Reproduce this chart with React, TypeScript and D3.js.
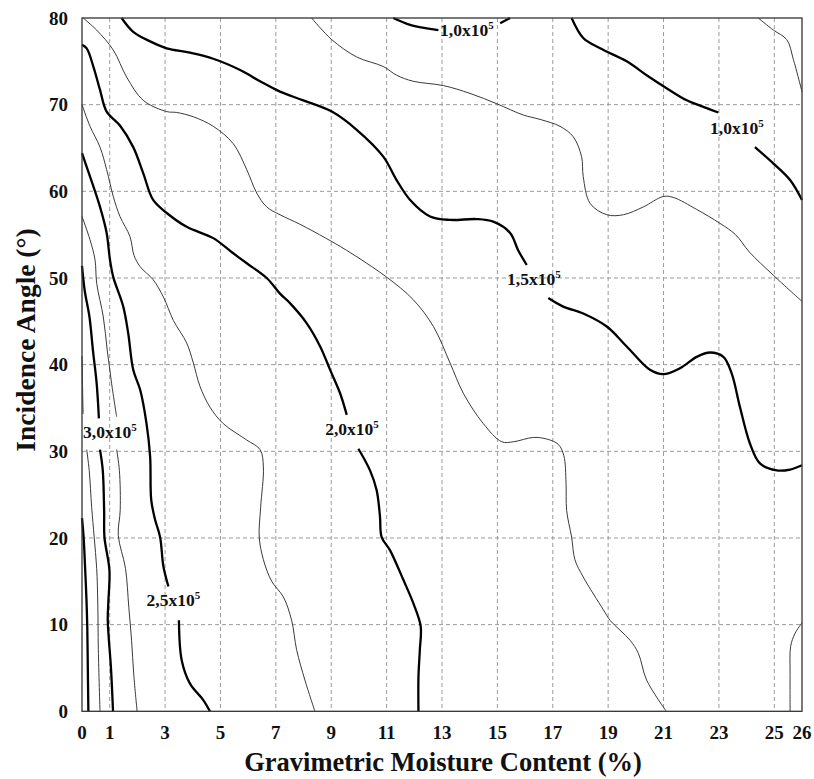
import React from "react";
import * as d3 from "d3";

type Pt = [number, number];

// Axis ticks
const xTickValues = [0, 1, 3, 5, 7, 9, 11, 13, 15, 17, 19, 21, 23, 25, 26];
const yTickValues = [0, 10, 20, 30, 40, 50, 60, 70, 80];
const xGridValues = [1, 3, 5, 7, 9, 11, 13, 15, 17, 19, 21, 23, 25];
const yGridValues = [10, 20, 30, 40, 50, 60, 70];

const xTitle = "Gravimetric Moisture Content (%)";
const yTitle = "Incidence Angle (°)";

// Thick contour lines (segments split where labels sit)
const k5: Pt[] = [[0.0, 22.3], [0.06, 20], [0.11, 16.7], [0.16, 13], [0.19, 9.8], [0.21, 5], [0.23, 0]];
const k4a: Pt[] = [[0, 51.4], [0.1, 48.5], [0.27, 45.5], [0.4, 41.5], [0.53, 37.8], [0.61, 33.8]];
const k4b: Pt[] = [[0.65, 30.2], [0.75, 27.8], [0.8, 23], [0.81, 20.1], [0.99, 16.3], [0.95, 12.5], [0.93, 10.5], [1.05, 4.8], [1.12, 0]];
const k3a: Pt[] = [[0, 64.4], [0.29, 61.7], [0.65, 58.2], [0.89, 55.2], [1.01, 52.1], [1.13, 50.1], [1.49, 46.7], [1.67, 43.6], [1.85, 39.4], [2.1, 37.1], [2.33, 33.2], [2.46, 29.4], [2.5, 24.4], [2.64, 22.1], [2.82, 20.1], [2.94, 16.7], [3.12, 14.4]];
const k3b: Pt[] = [[3.5, 10.5], [3.6, 5.9], [3.9, 3.2], [4.38, 1.3], [4.62, 0]];
const k2a: Pt[] = [[0, 76.9], [0.17, 76.5], [0.41, 74.4], [0.65, 71.7], [0.89, 69.2], [1.37, 67.6], [1.85, 65.1], [2.21, 62.1], [2.57, 59.0], [3.06, 57.5], [3.78, 55.9], [4.74, 54.6], [5.4, 53.0], [5.95, 51.7], [6.67, 50.0], [7.15, 48.2], [7.51, 47.1], [8.11, 44.8], [8.6, 42.1], [8.96, 39.4], [9.32, 36.7], [9.56, 34.2]];
const k2b: Pt[] = [[9.98, 30.3], [10.4, 27.8], [10.64, 25.5], [10.76, 22.5], [10.82, 20.1], [11.12, 18.6], [11.6, 15.2], [11.96, 12.5], [12.23, 9.8], [12.2, 7.1], [12.15, 4.0], [12.15, 0]];
const k1a: Pt[] = [[1.43, 80], [1.85, 78.4], [2.46, 77.3], [3.06, 76.5], [3.9, 76.0], [4.74, 75.3], [5.71, 74.0], [6.43, 72.7], [7.15, 71.5], [7.99, 70.5], [9.02, 69.2], [9.92, 67.1], [10.88, 64.0], [11.36, 61.3], [11.85, 59.0], [12.57, 57.1], [13.29, 56.7], [14.25, 56.8], [14.85, 56.5], [15.46, 55.2], [15.75, 53.2], [16.06, 51.5]];
const k1b: Pt[] = [[16.84, 47.7], [17.38, 46.7], [18.1, 45.9], [18.95, 44.4], [19.67, 42.1], [20.51, 39.4], [20.99, 38.9], [21.6, 39.6], [22.2, 40.9], [22.68, 41.4], [23.16, 40.9], [23.46, 39.0], [23.76, 35.1], [24.12, 30.9], [24.48, 28.6], [25.09, 27.8], [25.57, 27.9], [26, 28.4]];
const k0a: Pt[] = [[11.24, 80], [11.85, 79.2], [12.45, 78.8], [12.87, 78.6]];
const k0b: Pt[] = [[15.1, 79.4], [15.46, 80]];
const k0c: Pt[] = [[17.68, 80], [18.1, 77.7], [18.71, 76.5], [19.67, 75.0], [20.39, 73.4], [21.11, 71.9], [21.84, 70.5], [22.56, 69.6], [22.98, 69.1]];
const k0d: Pt[] = [[24.3, 65.1], [24.97, 63.2], [25.57, 61.3], [26, 59.0]];

// Thin contour lines
const t5a: Pt[] = [[0, 41], [0.02, 37.5], [0.04, 34.3]];
const t5b: Pt[] = [[0.17, 30.2], [0.26, 27.8], [0.35, 23.5], [0.44, 20.1], [0.53, 16.5], [0.57, 12.5], [0.59, 7.1], [0.65, 0]];
const t4a: Pt[] = [[0, 57.1], [0.29, 54.4], [0.47, 52.1], [0.53, 49.4], [0.77, 45.5], [0.91, 41.7], [1.07, 37.8], [1.25, 34.0]];
const t4b: Pt[] = [[1.25, 30.2], [1.35, 27.8], [1.38, 23.2], [1.31, 20.3], [1.57, 16.5], [1.69, 12.0], [1.79, 8.2], [1.87, 4.2], [1.99, 0]];
const t3: Pt[] = [[0, 70], [0.29, 67.5], [0.65, 65.1], [0.89, 62.5], [1.13, 59.4], [1.37, 57.1], [1.73, 54.8], [1.88, 52.6], [2.1, 51.3], [2.57, 49.8], [2.94, 47.8], [3.3, 45.1], [3.78, 42.5], [4.02, 40.2], [4.26, 37.5], [4.62, 35.1], [5.1, 33.2], [5.95, 31.3], [6.43, 30.2], [6.55, 28.2], [6.45, 23.5], [6.4, 20.1], [6.55, 17.5], [6.85, 15.0], [7.27, 13.2], [7.57, 10.5], [7.75, 7.1], [8.05, 3.6], [8.41, 0]];
const t1: Pt[] = [[0.04, 80], [0.53, 78.6], [1.13, 76.3], [1.61, 73.2], [2.21, 70.5], [3.06, 69.2], [3.42, 69.1], [4.02, 68.6], [4.74, 67.5], [5.46, 65.5], [5.95, 62.5], [6.31, 59.8], [6.67, 58.2], [7.15, 57.3], [7.87, 56.2], [8.8, 54.6], [9.55, 53.2], [11.0, 50.1], [11.96, 47.5], [12.69, 44.4], [13.29, 40.2], [13.77, 36.7], [14.49, 33.2], [15.16, 31.1], [15.58, 31.1], [16.3, 31.6], [16.8, 31.4], [17.2, 30.8], [17.4, 29.5], [17.48, 26.3], [17.5, 23.2], [17.68, 20.1], [17.8, 17.5], [18.1, 15.5], [18.83, 11.7], [19.07, 10.5], [19.79, 8.2], [20.09, 6.7], [20.39, 3.6], [21.1, 0]];
const t2: Pt[] = [[8.29, 80], [9.02, 77.5], [9.92, 75.5], [10.88, 74.4], [11.36, 73.4], [11.96, 72.7], [13.05, 72.2], [14.01, 71.3], [14.98, 70.1], [15.94, 68.8], [16.54, 68.3], [17.26, 67.5], [17.74, 66.3], [18.04, 64.0], [18.1, 61.7], [18.35, 58.6], [18.95, 57.3], [19.55, 57.3], [20.27, 58.2], [20.99, 59.4], [21.35, 59.3], [22.2, 57.9], [23.04, 56.3], [23.6, 55.0], [24.1, 53.0], [24.97, 50.3], [26, 47.3]];
const t0: Pt[] = [[24.42, 80], [24.97, 78.6], [25.45, 77.5], [25.69, 75.2], [26, 71.5]];
const t6: Pt[] = [[26, 10.2], [25.75, 9.0], [25.59, 7.5], [25.57, 4.4], [25.57, 0]];

const thickLines: Pt[][] = [k5, k4a, k4b, k3a, k3b, k2a, k2b, k1a, k1b, k0a, k0b, k0c, k0d];
const thinLines: Pt[][] = [t5a, t5b, t4a, t4b, t3, t1, t2, t0, t6];

// Contour labels
const labelMantissa = ["3,0x10", "2,5x10", "2,0x10", "1,5x10", "1,0x10", "1,0x10"];
const labelExponent = ["5", "5", "5", "5", "5", "5"];
const labelX = [0.04, 2.33, 8.78, 15.35, 12.93, 22.68];
const labelY = [31.5, 12.1, 31.9, 49.2, 77.9, 66.6];

const W = 814;
const H = 779;
const left = 82;
const right = 802;
const top = 18;
const bottom = 711.3;

export default function App() {
  const x = d3.scaleLinear().domain([0, 26]).range([left, right]);
  const y = d3.scaleLinear().domain([0, 80]).range([bottom, top]);
  const line = d3
    .line<Pt>()
    .x((d) => x(d[0]))
    .y((d) => y(d[1]))
    .curve(d3.curveCatmullRom.alpha(0.5));

  const font = "'Liberation Serif', 'Times New Roman', serif";

  return (
    <svg
      width={W}
      height={H}
      style={{ position: "absolute", left: 0, top: 0, background: "#fff" }}
      fontFamily={font}
    >
      <rect x={0} y={0} width={W} height={H} fill="#fff" />
      {xGridValues.map((v) => (
        <line key={"gx" + v} x1={x(v)} x2={x(v)} y1={top} y2={bottom} stroke="#9a9a9a" strokeWidth={1} strokeDasharray="4,3" />
      ))}
      {yGridValues.map((v) => (
        <line key={"gy" + v} x1={left} x2={right} y1={y(v)} y2={y(v)} stroke="#9a9a9a" strokeWidth={1} strokeDasharray="4,3" />
      ))}
      {thinLines.map((seg, i) => (
        <path key={"thin" + i} d={line(seg) || ""} fill="none" stroke="#3a3a3a" strokeWidth={1} />
      ))}
      {thickLines.map((seg, i) => (
        <path key={"thick" + i} d={line(seg) || ""} fill="none" stroke="#000" strokeWidth={2.3} />
      ))}
      <rect x={left} y={top} width={right - left} height={bottom - top} fill="none" stroke="#333" strokeWidth={1.3} />
      {labelMantissa.map((m, i) => (
        <text key={"lab" + i} x={x(labelX[i])} y={y(labelY[i])} fontSize={17.5} fontWeight="bold" fill="#111">
          {m}
          <tspan fontSize={11} dy={-7}>{labelExponent[i]}</tspan>
        </text>
      ))}
      {yTickValues.map((v) => (
        <text key={"yt" + v} x={left - 14} y={y(v)} dy="0.35em" textAnchor="end" fontSize={19} fontWeight="bold" fill="#111">
          {v}
        </text>
      ))}
      {xTickValues.map((v) => (
        <text key={"xt" + v} x={x(v)} y={739} textAnchor="middle" fontSize={19} fontWeight="bold" fill="#111">
          {v}
        </text>
      ))}
      <text x={443} y={771} textAnchor="middle" fontSize={26.5} fontWeight="bold" fill="#111">
        {xTitle}
      </text>
      <text transform="translate(34.5,340) rotate(-90)" textAnchor="middle" fontSize={27.5} fontWeight="bold" fill="#111">
        {yTitle}
      </text>
    </svg>
  );
}
